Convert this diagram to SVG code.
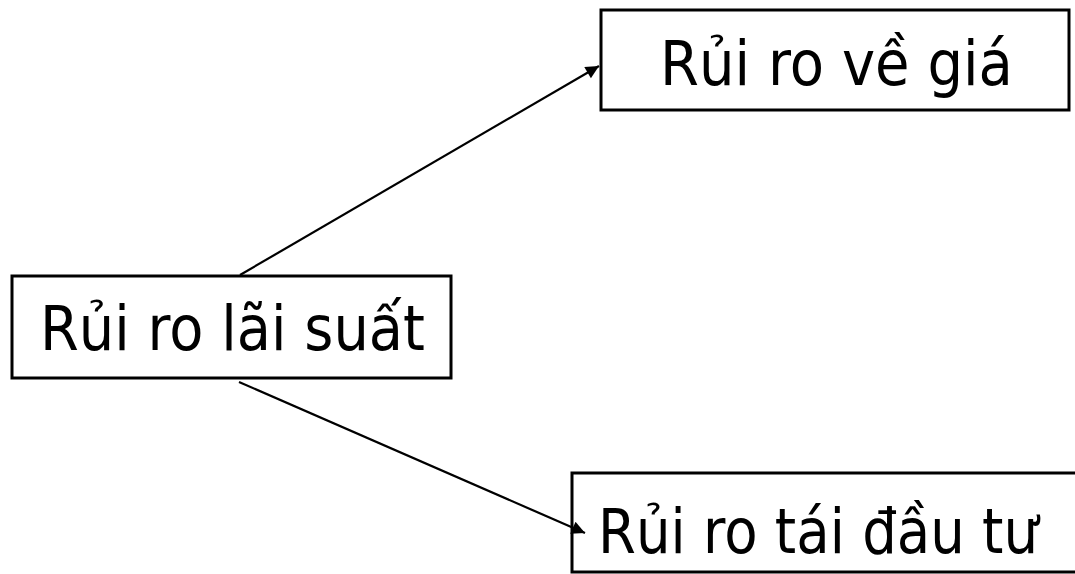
<svg xmlns="http://www.w3.org/2000/svg" width="1075" height="574" viewBox="0 0 1075 574">
<style>
.box{fill:#fff;stroke:#000;stroke-width:3}
.lbl{font-family:"DejaVu Sans","Liberation Sans",sans-serif;font-size:62px;fill:#000}
.edge{stroke:#000;stroke-width:2.2;fill:none}
</style>
<defs>
<marker id="arr" viewBox="0 0 10 10" refX="10" refY="5" markerWidth="7" markerHeight="6" markerUnits="strokeWidth" orient="auto">
<path d="M0,0 L10,5 L0,10 z" fill="#000"/>
</marker>
</defs>
<rect width="1075" height="574" fill="#fff"/>
<g id="n-price">
<rect class="box" x="601" y="10" width="468" height="100"/>
<text class="lbl" x="660" y="85" textLength="353" lengthAdjust="spacingAndGlyphs">Rủi ro về giá</text>
</g>
<g id="n-rate">
<rect class="box" x="12" y="276" width="439" height="102"/>
<text class="lbl" x="40" y="350" textLength="385" lengthAdjust="spacingAndGlyphs">Rủi ro lãi suất</text>
</g>
<g id="n-reinvest">
<rect class="box" x="572" y="473" width="510" height="99"/>
<text class="lbl" x="598" y="553" textLength="440" lengthAdjust="spacingAndGlyphs">Rủi ro tái đầu tư</text>
</g>
<g id="connectors">
<line class="edge" x1="240" y1="275" x2="599" y2="66" marker-end="url(#arr)"/>
<line class="edge" x1="239" y1="382" x2="585" y2="533" marker-end="url(#arr)"/>
</g>
</svg>
